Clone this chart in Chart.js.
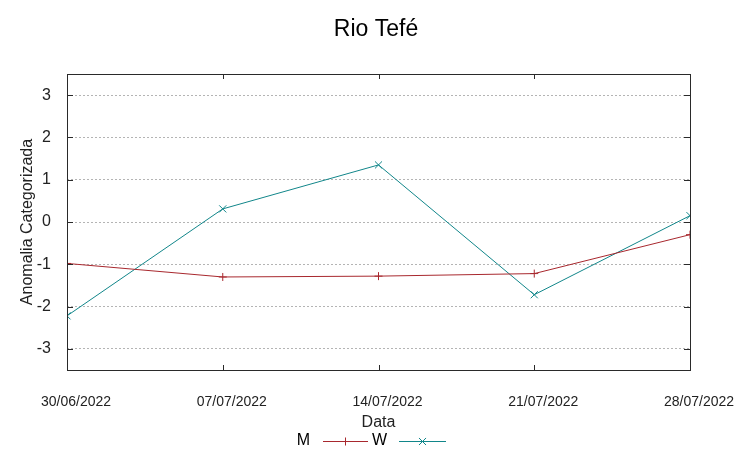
<!DOCTYPE html>
<html>
<head>
    <meta charset="UTF-8">
    <title>Rio Tefé</title>
    <script src="https://cdn.jsdelivr.net/npm/chart.js"></script>
    <style>
        body { margin: 0; background: #fff; }
        canvas { display: block; }
    </style>
</head>
<body>
    <canvas id="chart" width="753" height="458"></canvas>

    <script>
        // Data (days since 30/06/2022)
        const days = [0, 7, 14, 21, 28];
        const dateLabels = ['30/06/2022', '07/07/2022', '14/07/2022', '21/07/2022', '28/07/2022'];
        const seriesM = [-0.98, -1.30, -1.28, -1.22, -0.30];
        const seriesW = [-2.22, 0.31, 1.35, -1.72, 0.15];
        const yTicks = [-3, -2, -1, 0, 1, 2, 3];

        const FONT = 'Liberation Sans, Arial, sans-serif';
        const RED = '#a8282e';
        const TEAL = '#11868a';

        const toPoints = vals => vals.map((v, i) => ({ x: days[i], y: v }));

        // frame, inward ticks, title and gnuplot-style legend
        const extras = {
            id: 'extras',
            afterDraw(chart) {
                const ctx = chart.ctx;
                const a = chart.chartArea;
                const xs = chart.scales.x;
                const ys = chart.scales.y;
                ctx.save();
                ctx.strokeStyle = '#2a2a2a';
                ctx.lineWidth = 1;
                ctx.strokeRect(Math.round(a.left) + 0.5, Math.round(a.top) + 0.5,
                    Math.round(a.right - a.left), Math.round(a.bottom - a.top));
                ctx.beginPath();
                yTicks.forEach(t => {
                    const py = Math.round(ys.getPixelForValue(t)) + 0.5;
                    ctx.moveTo(a.left, py); ctx.lineTo(a.left + 6, py);
                    ctx.moveTo(a.right, py); ctx.lineTo(a.right - 6, py);
                });
                days.forEach(d => {
                    const px = Math.round(xs.getPixelForValue(d)) + 0.5;
                    ctx.moveTo(px, a.top); ctx.lineTo(px, a.top + 5);
                    ctx.moveTo(px, a.bottom); ctx.lineTo(px, a.bottom - 5);
                });
                ctx.stroke();

                // title
                ctx.fillStyle = '#000';
                ctx.font = '23px ' + FONT;
                ctx.textAlign = 'center';
                ctx.textBaseline = 'middle';
                ctx.fillText('Rio Tefé', 376, 30);

                // legend
                ctx.font = '16px ' + FONT;
                ctx.textAlign = 'right';
                const legendY = 441;
                const items = [
                    { label: 'M', color: RED, style: 'cross', r: 4, textX: 310, x0: 323, x1: 368 },
                    { label: 'W', color: TEAL, style: 'crossRot', r: 5, textX: 387, x0: 399, x1: 446 }
                ];
                items.forEach(it => {
                    ctx.fillStyle = '#000';
                    ctx.fillText(it.label, it.textX, legendY);
                    ctx.strokeStyle = it.color;
                    ctx.lineWidth = 1;
                    ctx.beginPath();
                    ctx.moveTo(it.x0, legendY + 0.5);
                    ctx.lineTo(it.x1, legendY + 0.5);
                    ctx.stroke();
                    ctx.fillStyle = it.color;
                    Chart.helpers.drawPoint(ctx, {
                        pointStyle: it.style,
                        radius: it.r,
                        borderWidth: 1
                    }, (it.x0 + it.x1) / 2, legendY + 0.5);
                });
                ctx.restore();
            }
        };

        new Chart(document.getElementById('chart'), {
            type: 'line',
            data: {
                datasets: [{
                    label: 'M',
                    data: toPoints(seriesM),
                    borderColor: RED,
                    backgroundColor: RED,
                    borderWidth: 1,
                    pointStyle: 'cross',
                    pointRadius: 4,
                    pointBorderWidth: 1,
                    tension: 0
                }, {
                    label: 'W',
                    data: toPoints(seriesW),
                    borderColor: TEAL,
                    backgroundColor: TEAL,
                    borderWidth: 1,
                    pointStyle: 'crossRot',
                    pointRadius: 5,
                    pointBorderWidth: 1,
                    tension: 0
                }]
            },
            options: {
                responsive: false,
                animation: false,
                layout: { padding: { left: 0, right: 63, top: 74, bottom: 0 } },
                plugins: {
                    legend: { display: false },
                    title: { display: false },
                    tooltip: { enabled: false }
                },
                scales: {
                    x: {
                        type: 'linear',
                        min: 0,
                        max: 28,
                        afterBuildTicks: s => { s.ticks = days.map(v => ({ value: v })); },
                        afterFit: s => { s.height = 88; },
                        grid: { display: false, drawTicks: false },
                        border: { display: false },
                        ticks: {
                            padding: 24,
                            labelOffset: 9,
                            maxRotation: 0,
                            autoSkip: false,
                            color: '#222',
                            font: { family: FONT, size: 14 },
                            callback: v => dateLabels[days.indexOf(v)]
                        },
                        title: {
                            display: true,
                            text: 'Data',
                            color: '#222',
                            font: { family: FONT, size: 16 },
                            padding: { top: 0, bottom: 26 }
                        }
                    },
                    y: {
                        min: -3.5,
                        max: 3.5,
                        afterBuildTicks: s => { s.ticks = yTicks.map(v => ({ value: v })); },
                        afterFit: s => { s.width = 67; },
                        grid: {
                            color: '#b4b4b4',
                            lineWidth: 1,
                            drawTicks: false
                        },
                        border: { display: false, dash: [2, 2] },
                        ticks: {
                            padding: 16,
                            color: '#222',
                            font: { family: FONT, size: 16 }
                        },
                        title: {
                            display: true,
                            text: 'Anomalia Categorizada',
                            color: '#222',
                            font: { family: FONT, size: 16 },
                            padding: { top: 18, bottom: 0 }
                        }
                    }
                }
            },
            plugins: [extras]
        });
    </script>
</body>
</html>
